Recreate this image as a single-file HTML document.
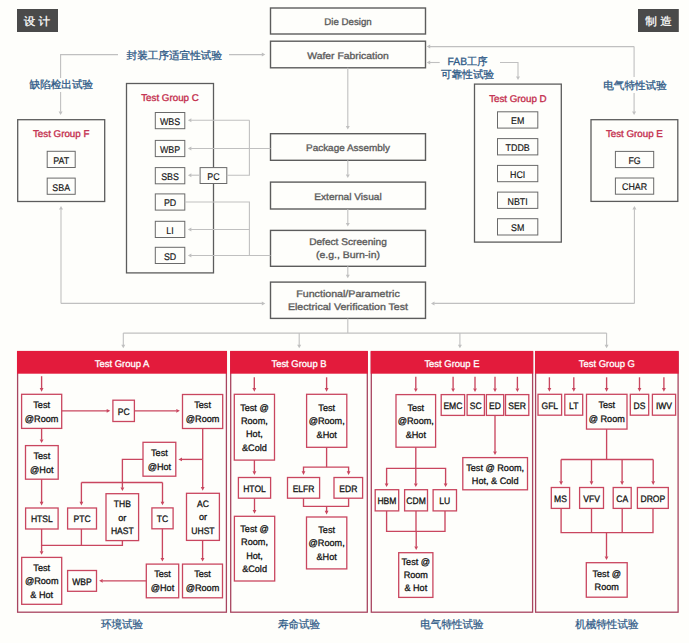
<!DOCTYPE html>
<html><head><meta charset="utf-8"><style>
html,body{margin:0;padding:0;background:#fefefb;}
body{width:689px;height:643px;overflow:hidden;}
svg{display:block;font-family:"Liberation Sans",sans-serif;text-rendering:geometricPrecision;}
</style></head><body>
<svg width="689" height="643" viewBox="0 0 689 643">
<rect width="689" height="643" fill="#fefefb"/>
<rect x="17.00" y="9.00" width="41.00" height="23.00" fill="#4a4a4a"/>
<text x="37.00" y="24.78" font-size="11" fill="#ffffff" stroke="#ffffff" stroke-width="0.25" text-anchor="middle" textLength="26.50" lengthAdjust="spacingAndGlyphs">设 计</text>
<rect x="638.00" y="9.00" width="40.80" height="23.00" fill="#4a4a4a"/>
<text x="658.60" y="24.78" font-size="11" fill="#ffffff" stroke="#ffffff" stroke-width="0.25" text-anchor="middle" textLength="26.50" lengthAdjust="spacingAndGlyphs">制 造</text>
<rect x="270.50" y="8.00" width="155.00" height="26.00" fill="none" stroke="#5c5c5c" stroke-width="1.4"/>
<text x="348.00" y="25.30" font-size="9.6" fill="#5e5e5e" stroke="#5e5e5e" stroke-width="0.36" text-anchor="middle" textLength="47.50" lengthAdjust="spacingAndGlyphs">Die Design</text>
<rect x="270.50" y="41.20" width="155.00" height="26.60" fill="none" stroke="#5c5c5c" stroke-width="1.4"/>
<text x="348.00" y="58.80" font-size="9.6" fill="#5e5e5e" stroke="#5e5e5e" stroke-width="0.36" text-anchor="middle" textLength="81.50" lengthAdjust="spacingAndGlyphs">Wafer Fabrication</text>
<rect x="270.50" y="133.70" width="155.00" height="26.60" fill="none" stroke="#5c5c5c" stroke-width="1.4"/>
<text x="348.00" y="151.30" font-size="9.6" fill="#5e5e5e" stroke="#5e5e5e" stroke-width="0.36" text-anchor="middle" textLength="84.00" lengthAdjust="spacingAndGlyphs">Package Assembly</text>
<rect x="270.50" y="182.10" width="155.00" height="26.90" fill="none" stroke="#5c5c5c" stroke-width="1.4"/>
<text x="348.00" y="199.85" font-size="9.6" fill="#5e5e5e" stroke="#5e5e5e" stroke-width="0.36" text-anchor="middle" textLength="67.40" lengthAdjust="spacingAndGlyphs">External Visual</text>
<rect x="270.50" y="230.40" width="155.00" height="35.90" fill="none" stroke="#5c5c5c" stroke-width="1.4"/>
<text x="348.00" y="245.15" font-size="9.6" fill="#5e5e5e" stroke="#5e5e5e" stroke-width="0.36" text-anchor="middle" textLength="77.60" lengthAdjust="spacingAndGlyphs">Defect Screening</text>
<text x="348.00" y="258.35" font-size="9.6" fill="#5e5e5e" stroke="#5e5e5e" stroke-width="0.36" text-anchor="middle" textLength="64.00" lengthAdjust="spacingAndGlyphs">(e.g., Burn-in)</text>
<rect x="270.50" y="282.10" width="155.00" height="36.30" fill="none" stroke="#5c5c5c" stroke-width="1.4"/>
<text x="348.00" y="297.05" font-size="9.6" fill="#5e5e5e" stroke="#5e5e5e" stroke-width="0.36" text-anchor="middle" textLength="103.40" lengthAdjust="spacingAndGlyphs">Functional/Parametric</text>
<text x="348.00" y="310.25" font-size="9.6" fill="#5e5e5e" stroke="#5e5e5e" stroke-width="0.36" text-anchor="middle" textLength="120.10" lengthAdjust="spacingAndGlyphs">Electrical Verification Test</text>
<polyline points="347.80,67.80 347.80,126.30" fill="none" stroke="#c0c0c0" stroke-width="1.1"/>
<polygon points="347.80,129.50 345.80,126.00 349.80,126.00" fill="#c0c0c0"/>
<polyline points="347.80,160.30 347.80,174.80" fill="none" stroke="#c0c0c0" stroke-width="1.1"/>
<polygon points="347.80,178.00 345.80,174.50 349.80,174.50" fill="#c0c0c0"/>
<polyline points="347.80,209.00 347.80,223.30" fill="none" stroke="#c0c0c0" stroke-width="1.1"/>
<polygon points="347.80,226.50 345.80,223.00 349.80,223.00" fill="#c0c0c0"/>
<polyline points="347.80,266.30 347.80,275.00" fill="none" stroke="#c0c0c0" stroke-width="1.1"/>
<polygon points="347.80,278.20 345.80,274.70 349.80,274.70" fill="#c0c0c0"/>
<rect x="17.70" y="119.70" width="87.00" height="81.80" fill="none" stroke="#5c5c5c" stroke-width="1.3"/>
<text x="61.20" y="137.27" font-size="9.8" fill="#c42f4e" stroke="#c42f4e" stroke-width="0.35" text-anchor="middle" textLength="56.44" lengthAdjust="spacingAndGlyphs">Test Group F</text>
<rect x="47.20" y="151.30" width="28.00" height="16.20" fill="#fefefb" stroke="#6a6a6a" stroke-width="1.0"/>
<text x="61.20" y="163.74" font-size="9.7" fill="#181818" stroke="#181818" stroke-width="0.18" text-anchor="middle" textLength="15.91" lengthAdjust="spacingAndGlyphs">PAT</text>
<rect x="47.20" y="178.10" width="28.00" height="16.20" fill="#fefefb" stroke="#6a6a6a" stroke-width="1.0"/>
<text x="61.20" y="190.54" font-size="9.7" fill="#181818" stroke="#181818" stroke-width="0.18" text-anchor="middle" textLength="17.73" lengthAdjust="spacingAndGlyphs">SBA</text>
<rect x="126.50" y="83.50" width="87.00" height="189.40" fill="none" stroke="#5c5c5c" stroke-width="1.3"/>
<text x="170.00" y="101.07" font-size="9.8" fill="#c42f4e" stroke="#c42f4e" stroke-width="0.35" text-anchor="middle" textLength="57.52" lengthAdjust="spacingAndGlyphs">Test Group C</text>
<rect x="155.30" y="112.50" width="29.50" height="16.20" fill="#fefefb" stroke="#6a6a6a" stroke-width="1.0"/>
<text x="170.05" y="124.94" font-size="9.7" fill="#181818" stroke="#181818" stroke-width="0.18" text-anchor="middle" textLength="20.18" lengthAdjust="spacingAndGlyphs">WBS</text>
<rect x="155.30" y="140.40" width="29.50" height="16.20" fill="#fefefb" stroke="#6a6a6a" stroke-width="1.0"/>
<text x="170.05" y="152.84" font-size="9.7" fill="#181818" stroke="#181818" stroke-width="0.18" text-anchor="middle" textLength="20.18" lengthAdjust="spacingAndGlyphs">WBP</text>
<rect x="155.30" y="167.60" width="29.50" height="16.20" fill="#fefefb" stroke="#6a6a6a" stroke-width="1.0"/>
<text x="170.05" y="180.04" font-size="9.7" fill="#181818" stroke="#181818" stroke-width="0.18" text-anchor="middle" textLength="17.73" lengthAdjust="spacingAndGlyphs">SBS</text>
<rect x="155.30" y="193.90" width="29.50" height="16.20" fill="#fefefb" stroke="#6a6a6a" stroke-width="1.0"/>
<text x="170.05" y="206.34" font-size="9.7" fill="#181818" stroke="#181818" stroke-width="0.18" text-anchor="middle" textLength="12.31" lengthAdjust="spacingAndGlyphs">PD</text>
<rect x="155.30" y="221.30" width="29.50" height="16.20" fill="#fefefb" stroke="#6a6a6a" stroke-width="1.0"/>
<text x="170.05" y="233.74" font-size="9.7" fill="#181818" stroke="#181818" stroke-width="0.18" text-anchor="middle" textLength="7.39" lengthAdjust="spacingAndGlyphs">LI</text>
<rect x="155.30" y="247.30" width="29.50" height="16.20" fill="#fefefb" stroke="#6a6a6a" stroke-width="1.0"/>
<text x="170.05" y="259.74" font-size="9.7" fill="#181818" stroke="#181818" stroke-width="0.18" text-anchor="middle" textLength="12.31" lengthAdjust="spacingAndGlyphs">SD</text>
<rect x="200.10" y="167.60" width="26.70" height="15.90" fill="#fefefb" stroke="#6a6a6a" stroke-width="1.0"/>
<text x="213.45" y="179.89" font-size="9.7" fill="#181818" stroke="#181818" stroke-width="0.18" text-anchor="middle" textLength="12.31" lengthAdjust="spacingAndGlyphs">PC</text>
<rect x="474.50" y="84.10" width="86.80" height="158.00" fill="none" stroke="#5c5c5c" stroke-width="1.3"/>
<text x="517.90" y="101.67" font-size="9.8" fill="#c42f4e" stroke="#c42f4e" stroke-width="0.35" text-anchor="middle" textLength="57.52" lengthAdjust="spacingAndGlyphs">Test Group D</text>
<rect x="497.50" y="111.80" width="40.30" height="16.30" fill="#fefefb" stroke="#6a6a6a" stroke-width="1.0"/>
<text x="517.65" y="124.29" font-size="9.7" fill="#181818" stroke="#181818" stroke-width="0.18" text-anchor="middle" textLength="13.29" lengthAdjust="spacingAndGlyphs">EM</text>
<rect x="497.50" y="138.60" width="40.30" height="16.30" fill="#fefefb" stroke="#6a6a6a" stroke-width="1.0"/>
<text x="517.65" y="151.09" font-size="9.7" fill="#181818" stroke="#181818" stroke-width="0.18" text-anchor="middle" textLength="24.11" lengthAdjust="spacingAndGlyphs">TDDB</text>
<rect x="497.50" y="165.40" width="40.30" height="16.30" fill="#fefefb" stroke="#6a6a6a" stroke-width="1.0"/>
<text x="517.65" y="177.89" font-size="9.7" fill="#181818" stroke="#181818" stroke-width="0.18" text-anchor="middle" textLength="15.26" lengthAdjust="spacingAndGlyphs">HCI</text>
<rect x="497.50" y="192.10" width="40.30" height="16.30" fill="#fefefb" stroke="#6a6a6a" stroke-width="1.0"/>
<text x="517.65" y="204.59" font-size="9.7" fill="#181818" stroke="#181818" stroke-width="0.18" text-anchor="middle" textLength="20.18" lengthAdjust="spacingAndGlyphs">NBTI</text>
<rect x="497.50" y="218.70" width="40.30" height="16.30" fill="#fefefb" stroke="#6a6a6a" stroke-width="1.0"/>
<text x="517.65" y="231.19" font-size="9.7" fill="#181818" stroke="#181818" stroke-width="0.18" text-anchor="middle" textLength="13.29" lengthAdjust="spacingAndGlyphs">SM</text>
<rect x="591.00" y="119.70" width="86.80" height="81.70" fill="none" stroke="#5c5c5c" stroke-width="1.3"/>
<text x="634.40" y="137.27" font-size="9.8" fill="#c42f4e" stroke="#c42f4e" stroke-width="0.35" text-anchor="middle" textLength="56.98" lengthAdjust="spacingAndGlyphs">Test Group E</text>
<rect x="615.40" y="151.40" width="38.30" height="16.20" fill="#fefefb" stroke="#6a6a6a" stroke-width="1.0"/>
<text x="634.55" y="163.84" font-size="9.7" fill="#181818" stroke="#181818" stroke-width="0.18" text-anchor="middle" textLength="12.30" lengthAdjust="spacingAndGlyphs">FG</text>
<rect x="615.40" y="178.00" width="38.30" height="16.20" fill="#fefefb" stroke="#6a6a6a" stroke-width="1.0"/>
<text x="634.55" y="190.44" font-size="9.7" fill="#181818" stroke="#181818" stroke-width="0.18" text-anchor="middle" textLength="25.10" lengthAdjust="spacingAndGlyphs">CHAR</text>
<polyline points="118.00,54.60 60.60,54.60 60.60,78.00" fill="none" stroke="#c0c0c0" stroke-width="1.1"/>
<polyline points="60.60,92.00 60.60,111.80" fill="none" stroke="#c0c0c0" stroke-width="1.1"/>
<polygon points="60.60,115.00 58.60,111.50 62.60,111.50" fill="#c0c0c0"/>
<text x="174.30" y="58.73" font-size="10.6" fill="#2f5a87" stroke="#2f5a87" stroke-width="0.3" text-anchor="middle" textLength="95.50" lengthAdjust="spacingAndGlyphs">封装工序适宜性试验</text>
<polyline points="229.00,54.60 262.10,54.60" fill="none" stroke="#c0c0c0" stroke-width="1.1"/>
<polygon points="265.30,54.60 261.80,52.60 261.80,56.60" fill="#c0c0c0"/>
<text x="61.30" y="87.83" font-size="10.6" fill="#2f5a87" stroke="#2f5a87" stroke-width="0.3" text-anchor="middle" textLength="63.50" lengthAdjust="spacingAndGlyphs">缺陷检出试验</text>
<polyline points="634.10,46.60 429.90,46.60" fill="none" stroke="#c0c0c0" stroke-width="1.1"/>
<polygon points="426.70,46.60 430.20,44.60 430.20,48.60" fill="#c0c0c0"/>
<polyline points="634.10,46.60 634.10,77.00" fill="none" stroke="#c0c0c0" stroke-width="1.1"/>
<polyline points="634.10,93.00 634.10,111.80" fill="none" stroke="#c0c0c0" stroke-width="1.1"/>
<polygon points="634.10,115.00 632.10,111.50 636.10,111.50" fill="#c0c0c0"/>
<text x="635.00" y="88.83" font-size="10.6" fill="#2f5a87" stroke="#2f5a87" stroke-width="0.3" text-anchor="middle" textLength="63.50" lengthAdjust="spacingAndGlyphs">电气特性试验</text>
<polyline points="439.70,62.50 429.90,62.50" fill="none" stroke="#c0c0c0" stroke-width="1.1"/>
<polygon points="426.70,62.50 430.20,60.50 430.20,64.50" fill="#c0c0c0"/>
<text x="467.60" y="65.43" font-size="10.6" fill="#2f5a87" stroke="#2f5a87" stroke-width="0.3" text-anchor="middle" textLength="40.00" lengthAdjust="spacingAndGlyphs">FAB工序</text>
<text x="467.60" y="78.13" font-size="10.6" fill="#2f5a87" stroke="#2f5a87" stroke-width="0.3" text-anchor="middle" textLength="53.00" lengthAdjust="spacingAndGlyphs">可靠性试验</text>
<polyline points="500.00,62.50 518.00,62.50 518.00,76.80" fill="none" stroke="#c0c0c0" stroke-width="1.1"/>
<polygon points="518.00,80.00 516.00,76.50 520.00,76.50" fill="#c0c0c0"/>
<polyline points="249.40,120.20 249.40,175.20 226.80,175.20" fill="none" stroke="#c0c0c0" stroke-width="1.1"/>
<polyline points="249.40,120.20 191.10,120.20" fill="none" stroke="#c0c0c0" stroke-width="1.1"/>
<polygon points="187.90,120.20 191.40,118.20 191.40,122.20" fill="#c0c0c0"/>
<polyline points="270.50,148.50 191.10,148.50" fill="none" stroke="#c0c0c0" stroke-width="1.1"/>
<polygon points="187.90,148.50 191.40,146.50 191.40,150.50" fill="#c0c0c0"/>
<polyline points="200.10,175.20 191.10,175.20" fill="none" stroke="#c0c0c0" stroke-width="1.1"/>
<polygon points="187.90,175.20 191.40,173.20 191.40,177.20" fill="#c0c0c0"/>
<polyline points="184.80,202.00 249.40,202.00 249.40,255.50" fill="none" stroke="#c0c0c0" stroke-width="1.1"/>
<polyline points="249.40,229.50 191.10,229.50" fill="none" stroke="#c0c0c0" stroke-width="1.1"/>
<polygon points="187.90,229.50 191.40,227.50 191.40,231.50" fill="#c0c0c0"/>
<polyline points="270.50,255.50 191.10,255.50" fill="none" stroke="#c0c0c0" stroke-width="1.1"/>
<polygon points="187.90,255.50 191.40,253.50 191.40,257.50" fill="#c0c0c0"/>
<polyline points="61.00,303.40 61.00,209.20" fill="none" stroke="#c0c0c0" stroke-width="1.1"/>
<polygon points="61.00,206.00 59.00,209.50 63.00,209.50" fill="#c0c0c0"/>
<polyline points="61.00,303.40 262.10,303.40" fill="none" stroke="#c0c0c0" stroke-width="1.1"/>
<polygon points="265.30,303.40 261.80,301.40 261.80,305.40" fill="#c0c0c0"/>
<polyline points="634.40,303.40 634.40,209.20" fill="none" stroke="#c0c0c0" stroke-width="1.1"/>
<polygon points="634.40,206.00 632.40,209.50 636.40,209.50" fill="#c0c0c0"/>
<polyline points="634.40,303.40 434.20,303.40" fill="none" stroke="#c0c0c0" stroke-width="1.1"/>
<polygon points="431.00,303.40 434.50,301.40 434.50,305.40" fill="#c0c0c0"/>
<polyline points="347.80,318.40 347.80,333.10" fill="none" stroke="#c0c0c0" stroke-width="1.1"/>
<polyline points="123.30,333.10 606.60,333.10" fill="none" stroke="#c0c0c0" stroke-width="1.1"/>
<polyline points="123.30,333.10 123.30,345.10" fill="none" stroke="#c0c0c0" stroke-width="1.1"/>
<polygon points="123.30,348.30 121.30,344.80 125.30,344.80" fill="#c0c0c0"/>
<polyline points="299.20,333.10 299.20,345.10" fill="none" stroke="#c0c0c0" stroke-width="1.1"/>
<polygon points="299.20,348.30 297.20,344.80 301.20,344.80" fill="#c0c0c0"/>
<polyline points="459.90,333.10 459.90,345.10" fill="none" stroke="#c0c0c0" stroke-width="1.1"/>
<polygon points="459.90,348.30 457.90,344.80 461.90,344.80" fill="#c0c0c0"/>
<polyline points="606.60,333.10 606.60,345.10" fill="none" stroke="#c0c0c0" stroke-width="1.1"/>
<polygon points="606.60,348.30 604.60,344.80 608.60,344.80" fill="#c0c0c0"/>
<rect x="17.60" y="352.00" width="208.80" height="260.20" fill="none" stroke="#a84560" stroke-width="1.3"/>
<rect x="17.00" y="350.90" width="210.00" height="22.80" fill="#e31b3c"/>
<text x="122.00" y="366.94" font-size="9.7" fill="#ffffff" stroke="#ffffff" stroke-width="0.3" text-anchor="middle" textLength="54.63" lengthAdjust="spacingAndGlyphs">Test Group A</text>
<text x="122.00" y="627.98" font-size="11" fill="#2f5a87" stroke="#2f5a87" stroke-width="0.25" text-anchor="middle" textLength="42.20" lengthAdjust="spacingAndGlyphs">环境试验</text>
<rect x="230.70" y="352.00" width="136.60" height="260.20" fill="none" stroke="#a84560" stroke-width="1.3"/>
<rect x="230.10" y="350.90" width="137.80" height="22.80" fill="#e31b3c"/>
<text x="299.00" y="366.94" font-size="9.7" fill="#ffffff" stroke="#ffffff" stroke-width="0.3" text-anchor="middle" textLength="55.15" lengthAdjust="spacingAndGlyphs">Test Group B</text>
<text x="299.00" y="627.98" font-size="11" fill="#2f5a87" stroke="#2f5a87" stroke-width="0.25" text-anchor="middle" textLength="42.20" lengthAdjust="spacingAndGlyphs">寿命试验</text>
<rect x="371.30" y="352.00" width="161.30" height="260.20" fill="none" stroke="#a84560" stroke-width="1.3"/>
<rect x="370.70" y="350.90" width="162.50" height="22.80" fill="#e31b3c"/>
<text x="451.95" y="366.94" font-size="9.7" fill="#ffffff" stroke="#ffffff" stroke-width="0.3" text-anchor="middle" textLength="55.15" lengthAdjust="spacingAndGlyphs">Test Group E</text>
<text x="451.95" y="627.98" font-size="11" fill="#2f5a87" stroke="#2f5a87" stroke-width="0.25" text-anchor="middle" textLength="63.30" lengthAdjust="spacingAndGlyphs">电气特性试验</text>
<rect x="535.60" y="352.00" width="142.50" height="260.20" fill="none" stroke="#a84560" stroke-width="1.3"/>
<rect x="535.00" y="350.90" width="143.70" height="22.80" fill="#e31b3c"/>
<text x="606.85" y="366.94" font-size="9.7" fill="#ffffff" stroke="#ffffff" stroke-width="0.3" text-anchor="middle" textLength="56.19" lengthAdjust="spacingAndGlyphs">Test Group G</text>
<text x="606.85" y="627.98" font-size="11" fill="#2f5a87" stroke="#2f5a87" stroke-width="0.25" text-anchor="middle" textLength="63.30" lengthAdjust="spacingAndGlyphs">机械特性试验</text>
<polyline points="41.60,376.20 41.60,388.40" fill="none" stroke="#c9465f" stroke-width="1.35"/>
<polygon points="41.60,391.70 39.70,388.10 43.50,388.10" fill="#c9465f"/>
<rect x="21.60" y="394.30" width="40.10" height="34.10" fill="#fefefb" stroke="#c9465f" stroke-width="1.3"/>
<text x="41.65" y="407.79" font-size="9.3" fill="#141414" stroke="#141414" stroke-width="0.3" text-anchor="middle" textLength="16.73" lengthAdjust="spacingAndGlyphs">Test</text>
<text x="41.65" y="421.69" font-size="9.3" fill="#141414" stroke="#141414" stroke-width="0.3" text-anchor="middle" textLength="33.58" lengthAdjust="spacingAndGlyphs">@Room</text>
<polyline points="61.70,410.80 107.00,410.80" fill="none" stroke="#c9465f" stroke-width="1.35"/>
<polygon points="110.30,410.80 106.70,408.90 106.70,412.70" fill="#c9465f"/>
<rect x="112.90" y="400.20" width="21.50" height="21.30" fill="#fefefb" stroke="#c9465f" stroke-width="1.3"/>
<text x="123.65" y="414.84" font-size="9.3" fill="#141414" stroke="#141414" stroke-width="0.3" text-anchor="middle" textLength="11.88" lengthAdjust="spacingAndGlyphs">PC</text>
<polyline points="134.40,410.80 176.60,410.80" fill="none" stroke="#c9465f" stroke-width="1.35"/>
<polygon points="179.90,410.80 176.30,408.90 176.30,412.70" fill="#c9465f"/>
<rect x="182.50" y="394.50" width="40.20" height="34.00" fill="#fefefb" stroke="#c9465f" stroke-width="1.3"/>
<text x="202.60" y="407.94" font-size="9.3" fill="#141414" stroke="#141414" stroke-width="0.3" text-anchor="middle" textLength="16.73" lengthAdjust="spacingAndGlyphs">Test</text>
<text x="202.60" y="421.84" font-size="9.3" fill="#141414" stroke="#141414" stroke-width="0.3" text-anchor="middle" textLength="33.58" lengthAdjust="spacingAndGlyphs">@Room</text>
<polyline points="41.60,428.40 41.60,439.70" fill="none" stroke="#c9465f" stroke-width="1.35"/>
<polygon points="41.60,443.00 39.70,439.40 43.50,439.40" fill="#c9465f"/>
<rect x="25.50" y="445.60" width="32.70" height="33.60" fill="#fefefb" stroke="#c9465f" stroke-width="1.3"/>
<text x="41.85" y="458.84" font-size="9.3" fill="#141414" stroke="#141414" stroke-width="0.3" text-anchor="middle" textLength="16.73" lengthAdjust="spacingAndGlyphs">Test</text>
<text x="41.85" y="472.74" font-size="9.3" fill="#141414" stroke="#141414" stroke-width="0.3" text-anchor="middle" textLength="23.45" lengthAdjust="spacingAndGlyphs">@Hot</text>
<polyline points="202.70,428.50 202.70,459.40" fill="none" stroke="#c9465f" stroke-width="1.35"/>
<polyline points="202.70,459.40 181.70,459.40" fill="none" stroke="#c9465f" stroke-width="1.35"/>
<polygon points="178.40,459.40 182.00,457.50 182.00,461.30" fill="#c9465f"/>
<rect x="143.00" y="442.30" width="32.80" height="33.90" fill="#fefefb" stroke="#c9465f" stroke-width="1.3"/>
<text x="159.40" y="455.69" font-size="9.3" fill="#141414" stroke="#141414" stroke-width="0.3" text-anchor="middle" textLength="16.73" lengthAdjust="spacingAndGlyphs">Test</text>
<text x="159.40" y="469.59" font-size="9.3" fill="#141414" stroke="#141414" stroke-width="0.3" text-anchor="middle" textLength="23.45" lengthAdjust="spacingAndGlyphs">@Hot</text>
<polyline points="143.00,459.30 122.40,459.30 122.40,482.50" fill="none" stroke="#c9465f" stroke-width="1.35"/>
<polyline points="122.40,482.50 122.40,487.80" fill="none" stroke="#c9465f" stroke-width="1.35"/>
<polygon points="122.40,491.10 120.50,487.50 124.30,487.50" fill="#c9465f"/>
<polyline points="81.40,482.50 162.50,482.50" fill="none" stroke="#c9465f" stroke-width="1.35"/>
<polyline points="81.40,482.50 81.40,502.10" fill="none" stroke="#c9465f" stroke-width="1.35"/>
<polygon points="81.40,505.40 79.50,501.80 83.30,501.80" fill="#c9465f"/>
<polyline points="162.50,482.50 162.50,502.00" fill="none" stroke="#c9465f" stroke-width="1.35"/>
<polygon points="162.50,505.30 160.60,501.70 164.40,501.70" fill="#c9465f"/>
<polyline points="202.70,459.40 202.70,487.40" fill="none" stroke="#c9465f" stroke-width="1.35"/>
<polygon points="202.70,490.70 200.80,487.10 204.60,487.10" fill="#c9465f"/>
<polyline points="41.60,479.20 41.60,502.10" fill="none" stroke="#c9465f" stroke-width="1.35"/>
<polygon points="41.60,505.40 39.70,501.80 43.50,501.80" fill="#c9465f"/>
<rect x="25.60" y="508.00" width="32.50" height="21.00" fill="#fefefb" stroke="#c9465f" stroke-width="1.3"/>
<text x="41.85" y="522.49" font-size="9.3" fill="#141414" stroke="#141414" stroke-width="0.3" text-anchor="middle" textLength="21.85" lengthAdjust="spacingAndGlyphs">HTSL</text>
<rect x="67.60" y="508.00" width="28.90" height="21.00" fill="#fefefb" stroke="#c9465f" stroke-width="1.3"/>
<text x="82.05" y="522.49" font-size="9.3" fill="#141414" stroke="#141414" stroke-width="0.3" text-anchor="middle" textLength="17.10" lengthAdjust="spacingAndGlyphs">PTC</text>
<rect x="106.00" y="493.70" width="32.60" height="46.90" fill="#fefefb" stroke="#c9465f" stroke-width="1.3"/>
<text x="122.30" y="507.14" font-size="9.3" fill="#141414" stroke="#141414" stroke-width="0.3" text-anchor="middle" textLength="17.10" lengthAdjust="spacingAndGlyphs">THB</text>
<text x="122.30" y="520.54" font-size="9.3" fill="#141414" stroke="#141414" stroke-width="0.3" text-anchor="middle" textLength="8.11" lengthAdjust="spacingAndGlyphs">or</text>
<text x="122.30" y="533.94" font-size="9.3" fill="#141414" stroke="#141414" stroke-width="0.3" text-anchor="middle" textLength="22.80" lengthAdjust="spacingAndGlyphs">HAST</text>
<rect x="151.90" y="507.90" width="21.20" height="20.90" fill="#fefefb" stroke="#c9465f" stroke-width="1.3"/>
<text x="162.50" y="522.34" font-size="9.3" fill="#141414" stroke="#141414" stroke-width="0.3" text-anchor="middle" textLength="11.40" lengthAdjust="spacingAndGlyphs">TC</text>
<rect x="186.50" y="493.30" width="32.90" height="47.10" fill="#fefefb" stroke="#c9465f" stroke-width="1.3"/>
<text x="202.95" y="506.84" font-size="9.3" fill="#141414" stroke="#141414" stroke-width="0.3" text-anchor="middle" textLength="11.88" lengthAdjust="spacingAndGlyphs">AC</text>
<text x="202.95" y="520.24" font-size="9.3" fill="#141414" stroke="#141414" stroke-width="0.3" text-anchor="middle" textLength="8.11" lengthAdjust="spacingAndGlyphs">or</text>
<text x="202.95" y="533.64" font-size="9.3" fill="#141414" stroke="#141414" stroke-width="0.3" text-anchor="middle" textLength="23.27" lengthAdjust="spacingAndGlyphs">UHST</text>
<polyline points="41.60,529.00 41.60,545.40 122.40,545.40 122.40,540.60" fill="none" stroke="#c9465f" stroke-width="1.35"/>
<polyline points="81.40,529.00 81.40,545.40" fill="none" stroke="#c9465f" stroke-width="1.35"/>
<polyline points="41.60,545.40 41.60,551.50" fill="none" stroke="#c9465f" stroke-width="1.35"/>
<polygon points="41.60,554.80 39.70,551.20 43.50,551.20" fill="#c9465f"/>
<rect x="21.70" y="557.40" width="40.00" height="46.90" fill="#fefefb" stroke="#c9465f" stroke-width="1.3"/>
<text x="41.70" y="570.84" font-size="9.3" fill="#141414" stroke="#141414" stroke-width="0.3" text-anchor="middle" textLength="16.73" lengthAdjust="spacingAndGlyphs">Test</text>
<text x="41.70" y="584.24" font-size="9.3" fill="#141414" stroke="#141414" stroke-width="0.3" text-anchor="middle" textLength="33.58" lengthAdjust="spacingAndGlyphs">@Room</text>
<text x="41.70" y="597.64" font-size="9.3" fill="#141414" stroke="#141414" stroke-width="0.3" text-anchor="middle" textLength="22.81" lengthAdjust="spacingAndGlyphs">&amp; Hot</text>
<polyline points="162.40,528.80 162.40,558.20" fill="none" stroke="#c9465f" stroke-width="1.35"/>
<polygon points="162.40,561.50 160.50,557.90 164.30,557.90" fill="#c9465f"/>
<polyline points="202.60,540.40 202.60,558.20" fill="none" stroke="#c9465f" stroke-width="1.35"/>
<polygon points="202.60,561.50 200.70,557.90 204.50,557.90" fill="#c9465f"/>
<rect x="146.30" y="564.10" width="32.40" height="33.70" fill="#fefefb" stroke="#c9465f" stroke-width="1.3"/>
<text x="162.50" y="577.39" font-size="9.3" fill="#141414" stroke="#141414" stroke-width="0.3" text-anchor="middle" textLength="16.73" lengthAdjust="spacingAndGlyphs">Test</text>
<text x="162.50" y="591.29" font-size="9.3" fill="#141414" stroke="#141414" stroke-width="0.3" text-anchor="middle" textLength="23.45" lengthAdjust="spacingAndGlyphs">@Hot</text>
<rect x="182.50" y="564.10" width="40.00" height="33.70" fill="#fefefb" stroke="#c9465f" stroke-width="1.3"/>
<text x="202.50" y="577.39" font-size="9.3" fill="#141414" stroke="#141414" stroke-width="0.3" text-anchor="middle" textLength="16.73" lengthAdjust="spacingAndGlyphs">Test</text>
<text x="202.50" y="591.29" font-size="9.3" fill="#141414" stroke="#141414" stroke-width="0.3" text-anchor="middle" textLength="33.58" lengthAdjust="spacingAndGlyphs">@Room</text>
<polyline points="146.30,580.80 102.40,580.80" fill="none" stroke="#c9465f" stroke-width="1.35"/>
<polygon points="99.10,580.80 102.70,578.90 102.70,582.70" fill="#c9465f"/>
<rect x="67.60" y="570.50" width="28.90" height="20.80" fill="#fefefb" stroke="#c9465f" stroke-width="1.3"/>
<text x="82.05" y="584.89" font-size="9.3" fill="#141414" stroke="#141414" stroke-width="0.3" text-anchor="middle" textLength="19.48" lengthAdjust="spacingAndGlyphs">WBP</text>
<polyline points="254.30,377.30 254.30,388.40" fill="none" stroke="#c9465f" stroke-width="1.35"/>
<polygon points="254.30,391.70 252.40,388.10 256.20,388.10" fill="#c9465f"/>
<polyline points="326.60,377.30 326.60,388.40" fill="none" stroke="#c9465f" stroke-width="1.35"/>
<polygon points="326.60,391.70 324.70,388.10 328.50,388.10" fill="#c9465f"/>
<rect x="234.30" y="394.30" width="40.20" height="65.80" fill="#fefefb" stroke="#c9465f" stroke-width="1.3"/>
<text x="254.40" y="410.64" font-size="9.3" fill="#141414" stroke="#141414" stroke-width="0.3" text-anchor="middle" textLength="28.52" lengthAdjust="spacingAndGlyphs">Test @</text>
<text x="254.40" y="423.94" font-size="9.3" fill="#141414" stroke="#141414" stroke-width="0.3" text-anchor="middle" textLength="26.86" lengthAdjust="spacingAndGlyphs">Room,</text>
<text x="254.40" y="437.24" font-size="9.3" fill="#141414" stroke="#141414" stroke-width="0.3" text-anchor="middle" textLength="16.73" lengthAdjust="spacingAndGlyphs">Hot,</text>
<text x="254.40" y="450.54" font-size="9.3" fill="#141414" stroke="#141414" stroke-width="0.3" text-anchor="middle" textLength="24.84" lengthAdjust="spacingAndGlyphs">&amp;Cold</text>
<rect x="306.60" y="394.30" width="40.20" height="53.00" fill="#fefefb" stroke="#c9465f" stroke-width="1.3"/>
<text x="326.70" y="410.69" font-size="9.3" fill="#141414" stroke="#141414" stroke-width="0.3" text-anchor="middle" textLength="16.73" lengthAdjust="spacingAndGlyphs">Test</text>
<text x="326.70" y="424.19" font-size="9.3" fill="#141414" stroke="#141414" stroke-width="0.3" text-anchor="middle" textLength="36.12" lengthAdjust="spacingAndGlyphs">@Room,</text>
<text x="326.70" y="437.69" font-size="9.3" fill="#141414" stroke="#141414" stroke-width="0.3" text-anchor="middle" textLength="20.27" lengthAdjust="spacingAndGlyphs">&amp;Hot</text>
<polyline points="254.40,460.10 254.40,471.60" fill="none" stroke="#c9465f" stroke-width="1.35"/>
<polygon points="254.40,474.90 252.50,471.30 256.30,471.30" fill="#c9465f"/>
<polyline points="326.60,447.30 326.60,467.10" fill="none" stroke="#c9465f" stroke-width="1.35"/>
<polyline points="303.50,472.00 303.50,467.10 348.60,467.10 348.60,472.00" fill="none" stroke="#c9465f" stroke-width="1.35"/>
<polygon points="303.50,474.90 301.60,471.30 305.40,471.30" fill="#c9465f"/>
<polygon points="348.60,474.90 346.70,471.30 350.50,471.30" fill="#c9465f"/>
<rect x="238.40" y="477.50" width="32.20" height="20.70" fill="#fefefb" stroke="#c9465f" stroke-width="1.3"/>
<text x="254.50" y="491.84" font-size="9.3" fill="#141414" stroke="#141414" stroke-width="0.3" text-anchor="middle" textLength="22.65" lengthAdjust="spacingAndGlyphs">HTOL</text>
<rect x="287.50" y="477.50" width="32.10" height="20.70" fill="#fefefb" stroke="#c9465f" stroke-width="1.3"/>
<text x="303.55" y="491.84" font-size="9.3" fill="#141414" stroke="#141414" stroke-width="0.3" text-anchor="middle" textLength="21.85" lengthAdjust="spacingAndGlyphs">ELFR</text>
<rect x="334.00" y="477.50" width="28.60" height="20.70" fill="#fefefb" stroke="#c9465f" stroke-width="1.3"/>
<text x="348.30" y="491.84" font-size="9.3" fill="#141414" stroke="#141414" stroke-width="0.3" text-anchor="middle" textLength="18.05" lengthAdjust="spacingAndGlyphs">EDR</text>
<polyline points="254.50,498.20 254.50,510.40" fill="none" stroke="#c9465f" stroke-width="1.35"/>
<polygon points="254.50,513.70 252.60,510.10 256.40,510.10" fill="#c9465f"/>
<polyline points="303.50,498.20 303.50,506.30 348.60,506.30 348.60,498.20" fill="none" stroke="#c9465f" stroke-width="1.35"/>
<polyline points="326.60,506.30 326.60,511.10" fill="none" stroke="#c9465f" stroke-width="1.35"/>
<polygon points="326.60,514.40 324.70,510.80 328.50,510.80" fill="#c9465f"/>
<rect x="234.40" y="516.30" width="40.30" height="64.70" fill="#fefefb" stroke="#c9465f" stroke-width="1.3"/>
<text x="254.55" y="532.09" font-size="9.3" fill="#141414" stroke="#141414" stroke-width="0.3" text-anchor="middle" textLength="28.52" lengthAdjust="spacingAndGlyphs">Test @</text>
<text x="254.55" y="545.39" font-size="9.3" fill="#141414" stroke="#141414" stroke-width="0.3" text-anchor="middle" textLength="26.86" lengthAdjust="spacingAndGlyphs">Room,</text>
<text x="254.55" y="558.69" font-size="9.3" fill="#141414" stroke="#141414" stroke-width="0.3" text-anchor="middle" textLength="16.73" lengthAdjust="spacingAndGlyphs">Hot,</text>
<text x="254.55" y="571.99" font-size="9.3" fill="#141414" stroke="#141414" stroke-width="0.3" text-anchor="middle" textLength="24.84" lengthAdjust="spacingAndGlyphs">&amp;Cold</text>
<rect x="306.50" y="517.00" width="40.30" height="51.90" fill="#fefefb" stroke="#c9465f" stroke-width="1.3"/>
<text x="326.65" y="532.84" font-size="9.3" fill="#141414" stroke="#141414" stroke-width="0.3" text-anchor="middle" textLength="16.73" lengthAdjust="spacingAndGlyphs">Test</text>
<text x="326.65" y="546.34" font-size="9.3" fill="#141414" stroke="#141414" stroke-width="0.3" text-anchor="middle" textLength="36.12" lengthAdjust="spacingAndGlyphs">@Room,</text>
<text x="326.65" y="559.84" font-size="9.3" fill="#141414" stroke="#141414" stroke-width="0.3" text-anchor="middle" textLength="20.27" lengthAdjust="spacingAndGlyphs">&amp;Hot</text>
<polyline points="415.80,376.80 415.80,388.70" fill="none" stroke="#c9465f" stroke-width="1.35"/>
<polygon points="415.80,392.00 413.90,388.40 417.70,388.40" fill="#c9465f"/>
<polyline points="453.10,376.80 453.10,388.70" fill="none" stroke="#c9465f" stroke-width="1.35"/>
<polygon points="453.10,392.00 451.20,388.40 455.00,388.40" fill="#c9465f"/>
<polyline points="475.00,376.80 475.00,388.70" fill="none" stroke="#c9465f" stroke-width="1.35"/>
<polygon points="475.00,392.00 473.10,388.40 476.90,388.40" fill="#c9465f"/>
<polyline points="495.00,376.80 495.00,388.70" fill="none" stroke="#c9465f" stroke-width="1.35"/>
<polygon points="495.00,392.00 493.10,388.40 496.90,388.40" fill="#c9465f"/>
<polyline points="517.40,376.80 517.40,388.70" fill="none" stroke="#c9465f" stroke-width="1.35"/>
<polygon points="517.40,392.00 515.50,388.40 519.30,388.40" fill="#c9465f"/>
<rect x="396.00" y="394.60" width="39.60" height="52.60" fill="#fefefb" stroke="#c9465f" stroke-width="1.3"/>
<text x="415.80" y="410.69" font-size="9.3" fill="#141414" stroke="#141414" stroke-width="0.3" text-anchor="middle" textLength="16.73" lengthAdjust="spacingAndGlyphs">Test</text>
<text x="415.80" y="424.29" font-size="9.3" fill="#141414" stroke="#141414" stroke-width="0.3" text-anchor="middle" textLength="36.12" lengthAdjust="spacingAndGlyphs">@Room,</text>
<text x="415.80" y="437.89" font-size="9.3" fill="#141414" stroke="#141414" stroke-width="0.3" text-anchor="middle" textLength="20.27" lengthAdjust="spacingAndGlyphs">&amp;Hot</text>
<rect x="441.20" y="394.60" width="23.40" height="20.80" fill="#fefefb" stroke="#c9465f" stroke-width="1.3"/>
<text x="452.90" y="408.99" font-size="9.3" fill="#141414" stroke="#141414" stroke-width="0.3" text-anchor="middle" textLength="19.00" lengthAdjust="spacingAndGlyphs">EMC</text>
<rect x="467.10" y="394.60" width="17.30" height="20.80" fill="#fefefb" stroke="#c9465f" stroke-width="1.3"/>
<text x="475.75" y="408.99" font-size="9.3" fill="#141414" stroke="#141414" stroke-width="0.3" text-anchor="middle" textLength="11.88" lengthAdjust="spacingAndGlyphs">SC</text>
<rect x="486.40" y="394.60" width="17.30" height="20.80" fill="#fefefb" stroke="#c9465f" stroke-width="1.3"/>
<text x="495.05" y="408.99" font-size="9.3" fill="#141414" stroke="#141414" stroke-width="0.3" text-anchor="middle" textLength="11.88" lengthAdjust="spacingAndGlyphs">ED</text>
<rect x="505.50" y="394.60" width="23.30" height="20.80" fill="#fefefb" stroke="#c9465f" stroke-width="1.3"/>
<text x="517.15" y="408.99" font-size="9.3" fill="#141414" stroke="#141414" stroke-width="0.3" text-anchor="middle" textLength="17.58" lengthAdjust="spacingAndGlyphs">SER</text>
<polyline points="495.00,415.40 495.00,451.70" fill="none" stroke="#c9465f" stroke-width="1.35"/>
<polygon points="495.00,455.00 493.10,451.40 496.90,451.40" fill="#c9465f"/>
<rect x="462.80" y="457.60" width="64.70" height="32.20" fill="#fefefb" stroke="#c9465f" stroke-width="1.3"/>
<text x="495.15" y="470.59" font-size="9.3" fill="#141414" stroke="#141414" stroke-width="0.3" text-anchor="middle" textLength="57.91" lengthAdjust="spacingAndGlyphs">Test @ Room,</text>
<text x="495.15" y="483.59" font-size="9.3" fill="#141414" stroke="#141414" stroke-width="0.3" text-anchor="middle" textLength="46.63" lengthAdjust="spacingAndGlyphs">Hot, &amp; Cold</text>
<polyline points="415.80,447.20 415.80,468.30" fill="none" stroke="#c9465f" stroke-width="1.35"/>
<polyline points="386.60,484.00 386.60,468.30 445.60,468.30 445.60,484.00" fill="none" stroke="#c9465f" stroke-width="1.35"/>
<polygon points="386.60,487.10 384.70,483.50 388.50,483.50" fill="#c9465f"/>
<polygon points="445.60,487.10 443.70,483.50 447.50,483.50" fill="#c9465f"/>
<polyline points="415.80,468.30 415.80,483.80" fill="none" stroke="#c9465f" stroke-width="1.35"/>
<polygon points="415.80,487.10 413.90,483.50 417.70,483.50" fill="#c9465f"/>
<rect x="375.20" y="489.70" width="23.50" height="21.20" fill="#fefefb" stroke="#c9465f" stroke-width="1.3"/>
<text x="386.95" y="504.29" font-size="9.3" fill="#141414" stroke="#141414" stroke-width="0.3" text-anchor="middle" textLength="19.00" lengthAdjust="spacingAndGlyphs">HBM</text>
<rect x="404.60" y="489.70" width="22.90" height="21.20" fill="#fefefb" stroke="#c9465f" stroke-width="1.3"/>
<text x="416.05" y="504.29" font-size="9.3" fill="#141414" stroke="#141414" stroke-width="0.3" text-anchor="middle" textLength="19.47" lengthAdjust="spacingAndGlyphs">CDM</text>
<rect x="433.10" y="489.70" width="23.40" height="21.20" fill="#fefefb" stroke="#c9465f" stroke-width="1.3"/>
<text x="444.80" y="504.29" font-size="9.3" fill="#141414" stroke="#141414" stroke-width="0.3" text-anchor="middle" textLength="10.93" lengthAdjust="spacingAndGlyphs">LU</text>
<polyline points="386.60,510.90 386.60,531.40 445.00,531.40 445.00,510.90" fill="none" stroke="#c9465f" stroke-width="1.35"/>
<polyline points="416.00,510.90 416.00,531.40" fill="none" stroke="#c9465f" stroke-width="1.35"/>
<polyline points="416.20,531.40 416.20,546.80" fill="none" stroke="#c9465f" stroke-width="1.35"/>
<polygon points="416.20,550.10 414.30,546.50 418.10,546.50" fill="#c9465f"/>
<rect x="398.70" y="552.70" width="34.20" height="44.70" fill="#fefefb" stroke="#c9465f" stroke-width="1.3"/>
<text x="415.80" y="565.44" font-size="9.3" fill="#141414" stroke="#141414" stroke-width="0.3" text-anchor="middle" textLength="28.52" lengthAdjust="spacingAndGlyphs">Test @</text>
<text x="415.80" y="578.44" font-size="9.3" fill="#141414" stroke="#141414" stroke-width="0.3" text-anchor="middle" textLength="24.33" lengthAdjust="spacingAndGlyphs">Room</text>
<text x="415.80" y="591.44" font-size="9.3" fill="#141414" stroke="#141414" stroke-width="0.3" text-anchor="middle" textLength="22.81" lengthAdjust="spacingAndGlyphs">&amp; Hot</text>
<polyline points="549.40,377.30 549.40,388.40" fill="none" stroke="#c9465f" stroke-width="1.35"/>
<polygon points="549.40,391.70 547.50,388.10 551.30,388.10" fill="#c9465f"/>
<polyline points="573.80,377.30 573.80,388.40" fill="none" stroke="#c9465f" stroke-width="1.35"/>
<polygon points="573.80,391.70 571.90,388.10 575.70,388.10" fill="#c9465f"/>
<polyline points="606.60,377.30 606.60,388.40" fill="none" stroke="#c9465f" stroke-width="1.35"/>
<polygon points="606.60,391.70 604.70,388.10 608.50,388.10" fill="#c9465f"/>
<polyline points="639.50,377.30 639.50,388.40" fill="none" stroke="#c9465f" stroke-width="1.35"/>
<polygon points="639.50,391.70 637.60,388.10 641.40,388.10" fill="#c9465f"/>
<polyline points="663.90,377.30 663.90,388.40" fill="none" stroke="#c9465f" stroke-width="1.35"/>
<polygon points="663.90,391.70 662.00,388.10 665.80,388.10" fill="#c9465f"/>
<rect x="538.00" y="394.30" width="23.60" height="20.90" fill="#fefefb" stroke="#c9465f" stroke-width="1.3"/>
<text x="549.80" y="408.74" font-size="9.3" fill="#141414" stroke="#141414" stroke-width="0.3" text-anchor="middle" textLength="16.63" lengthAdjust="spacingAndGlyphs">GFL</text>
<rect x="564.80" y="394.30" width="17.90" height="20.90" fill="#fefefb" stroke="#c9465f" stroke-width="1.3"/>
<text x="573.75" y="408.74" font-size="9.3" fill="#141414" stroke="#141414" stroke-width="0.3" text-anchor="middle" textLength="9.34" lengthAdjust="spacingAndGlyphs">LT</text>
<rect x="586.50" y="394.30" width="40.50" height="34.80" fill="#fefefb" stroke="#c9465f" stroke-width="1.3"/>
<text x="606.75" y="408.29" font-size="9.3" fill="#141414" stroke="#141414" stroke-width="0.3" text-anchor="middle" textLength="16.73" lengthAdjust="spacingAndGlyphs">Test</text>
<text x="606.75" y="421.89" font-size="9.3" fill="#141414" stroke="#141414" stroke-width="0.3" text-anchor="middle" textLength="36.12" lengthAdjust="spacingAndGlyphs">@ Room</text>
<rect x="630.30" y="394.30" width="18.40" height="20.90" fill="#fefefb" stroke="#c9465f" stroke-width="1.3"/>
<text x="639.50" y="408.74" font-size="9.3" fill="#141414" stroke="#141414" stroke-width="0.3" text-anchor="middle" textLength="11.88" lengthAdjust="spacingAndGlyphs">DS</text>
<rect x="652.40" y="394.30" width="23.20" height="20.90" fill="#fefefb" stroke="#c9465f" stroke-width="1.3"/>
<text x="664.00" y="408.74" font-size="9.3" fill="#141414" stroke="#141414" stroke-width="0.3" text-anchor="middle" textLength="16.15" lengthAdjust="spacingAndGlyphs">IWV</text>
<polyline points="606.60,429.10 606.60,459.50" fill="none" stroke="#c9465f" stroke-width="1.35"/>
<polyline points="561.10,459.50 653.20,459.50" fill="none" stroke="#c9465f" stroke-width="1.35"/>
<polyline points="561.10,459.50 561.10,481.60" fill="none" stroke="#c9465f" stroke-width="1.35"/>
<polygon points="561.10,484.90 559.20,481.30 563.00,481.30" fill="#c9465f"/>
<polyline points="591.50,459.50 591.50,481.60" fill="none" stroke="#c9465f" stroke-width="1.35"/>
<polygon points="591.50,484.90 589.60,481.30 593.40,481.30" fill="#c9465f"/>
<polyline points="622.10,459.50 622.10,481.60" fill="none" stroke="#c9465f" stroke-width="1.35"/>
<polygon points="622.10,484.90 620.20,481.30 624.00,481.30" fill="#c9465f"/>
<polyline points="653.20,459.50 653.20,481.60" fill="none" stroke="#c9465f" stroke-width="1.35"/>
<polygon points="653.20,484.90 651.30,481.30 655.10,481.30" fill="#c9465f"/>
<rect x="551.30" y="487.50" width="18.30" height="20.90" fill="#fefefb" stroke="#c9465f" stroke-width="1.3"/>
<text x="560.45" y="501.94" font-size="9.3" fill="#141414" stroke="#141414" stroke-width="0.3" text-anchor="middle" textLength="12.83" lengthAdjust="spacingAndGlyphs">MS</text>
<rect x="579.60" y="487.50" width="23.90" height="20.90" fill="#fefefb" stroke="#c9465f" stroke-width="1.3"/>
<text x="591.55" y="501.94" font-size="9.3" fill="#141414" stroke="#141414" stroke-width="0.3" text-anchor="middle" textLength="16.63" lengthAdjust="spacingAndGlyphs">VFV</text>
<rect x="613.20" y="487.50" width="18.00" height="20.90" fill="#fefefb" stroke="#c9465f" stroke-width="1.3"/>
<text x="622.20" y="501.94" font-size="9.3" fill="#141414" stroke="#141414" stroke-width="0.3" text-anchor="middle" textLength="11.88" lengthAdjust="spacingAndGlyphs">CA</text>
<rect x="637.40" y="487.50" width="30.90" height="20.90" fill="#fefefb" stroke="#c9465f" stroke-width="1.3"/>
<text x="652.85" y="501.94" font-size="9.3" fill="#141414" stroke="#141414" stroke-width="0.3" text-anchor="middle" textLength="24.70" lengthAdjust="spacingAndGlyphs">DROP</text>
<polyline points="561.10,508.40 561.10,532.60 653.00,532.60 653.00,508.40" fill="none" stroke="#c9465f" stroke-width="1.35"/>
<polyline points="591.50,508.40 591.50,532.60" fill="none" stroke="#c9465f" stroke-width="1.35"/>
<polyline points="622.20,508.40 622.20,532.60" fill="none" stroke="#c9465f" stroke-width="1.35"/>
<polyline points="606.50,532.60 606.50,556.80" fill="none" stroke="#c9465f" stroke-width="1.35"/>
<polygon points="606.50,560.10 604.60,556.50 608.40,556.50" fill="#c9465f"/>
<rect x="586.30" y="562.70" width="40.90" height="34.50" fill="#fefefb" stroke="#c9465f" stroke-width="1.3"/>
<text x="606.75" y="576.54" font-size="9.3" fill="#141414" stroke="#141414" stroke-width="0.3" text-anchor="middle" textLength="28.52" lengthAdjust="spacingAndGlyphs">Test @</text>
<text x="606.75" y="590.14" font-size="9.3" fill="#141414" stroke="#141414" stroke-width="0.3" text-anchor="middle" textLength="24.33" lengthAdjust="spacingAndGlyphs">Room</text>
</svg></body></html>
